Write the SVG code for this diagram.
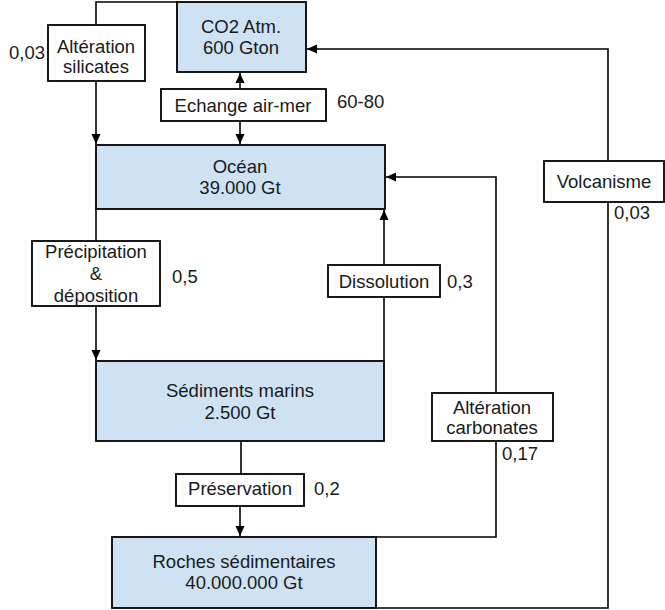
<svg xmlns="http://www.w3.org/2000/svg" width="665" height="610" viewBox="0 0 665 610">
<style>
.blue{fill:#cfe2f3;stroke:#000;stroke-width:1.8}
.white{fill:#fff;stroke:#000;stroke-width:1.8}
text{font-family:"Liberation Sans",Arial,sans-serif;font-size:18.5px;fill:#1a1a1a}
.c{text-anchor:middle}
.conn path{fill:none;stroke:#000;stroke-width:1.6}
</style>
<defs>
<marker id="ar" markerUnits="userSpaceOnUse" markerWidth="11" markerHeight="10" refX="10" refY="5" orient="auto">
<path d="M0,0.5 L10,5 L0,9.5 z" fill="#000"/>
</marker>
</defs>
<rect width="665" height="610" fill="#fff"/>
<g class="conn">
<path d="M96,25 V2 H177"/>
<path d="M96,81 V144" marker-end="url(#ar)"/>
<path d="M240,89 V73" marker-end="url(#ar)"/>
<path d="M240,121 V144" marker-end="url(#ar)"/>
<path d="M608,161 V49 H307" marker-end="url(#ar)"/>
<path d="M376,608 H608 V202"/>
<path d="M496,393 V177 H386" marker-end="url(#ar)"/>
<path d="M376,537 H496 V441"/>
<path d="M96,209 V241"/>
<path d="M96,306 V360" marker-end="url(#ar)"/>
<path d="M384,361 V297"/>
<path d="M384,265 V210" marker-end="url(#ar)"/>
<path d="M241,441 V474"/>
<path d="M240,506 V536" marker-end="url(#ar)"/>
</g>
<g id="co2">
<rect class="blue" x="177" y="2" width="129" height="70"/>
<text class="c" x="241" y="33">CO2 Atm.</text>
<text class="c" x="241" y="54">600 Gton</text>
</g>
<g id="alteration-silicates">
<rect class="white" x="48" y="25" width="97" height="56"/>
<text class="c" x="96" y="53">Altération</text>
<text class="c" x="96" y="73">silicates</text>
<text x="9" y="59">0,03</text>
</g>
<g id="echange">
<rect class="white" x="161" y="89" width="165" height="32"/>
<text class="c" x="243" y="112">Echange air-mer</text>
<text x="337" y="108">60-80</text>
</g>
<g id="ocean">
<rect class="blue" x="96" y="145" width="289" height="64"/>
<text class="c" x="240" y="173">Océan</text>
<text class="c" x="240" y="194">39.000 Gt</text>
</g>
<g id="volcanisme">
<rect class="white" x="544" y="161" width="120" height="41"/>
<text class="c" x="604" y="188">Volcanisme</text>
<text x="614" y="219">0,03</text>
</g>
<g id="precipitation">
<rect class="white" x="32" y="241" width="128" height="65"/>
<text class="c" x="96" y="258">Précipitation</text>
<text class="c" x="96" y="280">&amp;</text>
<text class="c" x="96" y="302">déposition</text>
<text x="172" y="283">0,5</text>
</g>
<g id="dissolution">
<rect class="white" x="328" y="265" width="112" height="32"/>
<text class="c" x="384" y="288">Dissolution</text>
<text x="447" y="288">0,3</text>
</g>
<g id="sediments">
<rect class="blue" x="96" y="361" width="288" height="80"/>
<text class="c" x="240" y="397">Sédiments marins</text>
<text class="c" x="240" y="419">2.500 Gt</text>
</g>
<g id="alteration-carbonates">
<rect class="white" x="432" y="393" width="121" height="48"/>
<text class="c" x="492" y="414">Altération</text>
<text class="c" x="492" y="434">carbonates</text>
<text x="502" y="460">0,17</text>
</g>
<g id="preservation">
<rect class="white" x="176" y="474" width="128" height="32"/>
<text class="c" x="240" y="495">Préservation</text>
<text x="314" y="495">0,2</text>
</g>
<g id="roches">
<rect class="blue" x="112" y="537" width="264" height="71"/>
<text class="c" x="244" y="568">Roches sédimentaires</text>
<text class="c" x="244" y="589">40.000.000 Gt</text>
</g>
</svg>
